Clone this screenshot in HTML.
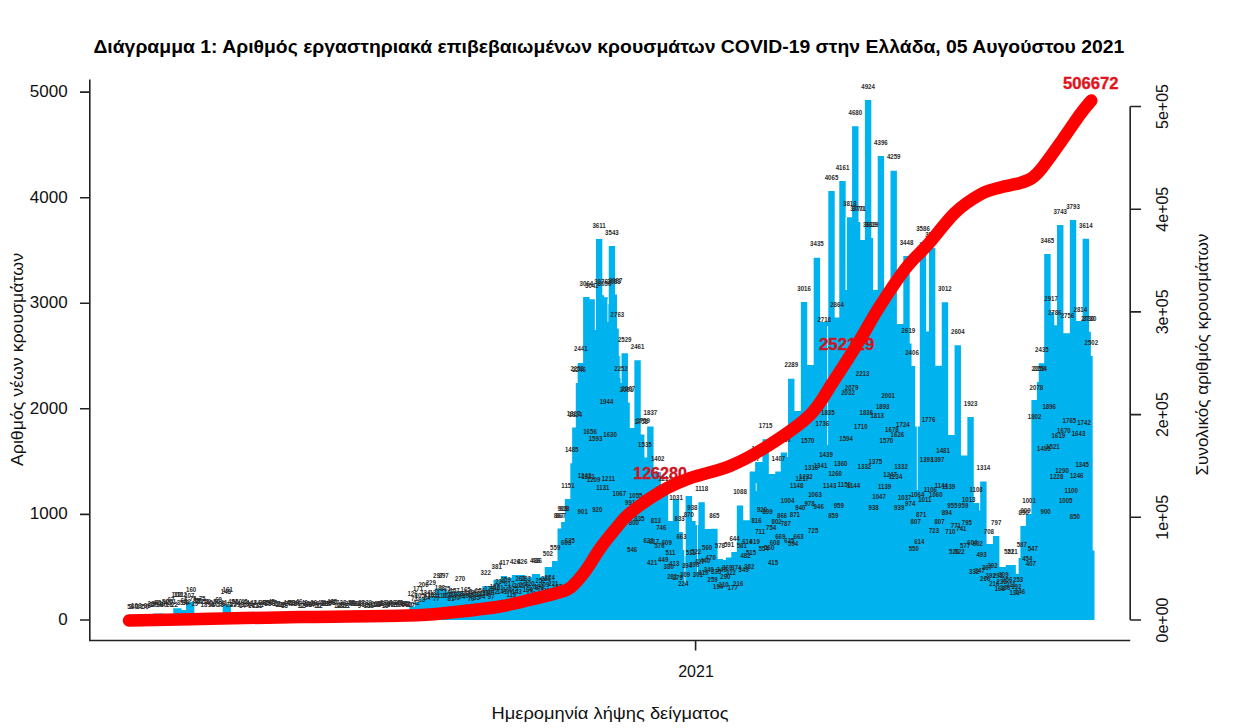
<!DOCTYPE html>
<html><head><meta charset="utf-8"><title>COVID-19 Greece</title>
<style>html,body{margin:0;padding:0;background:#fff;width:1244px;height:728px;overflow:hidden}svg{display:block;font-family:"Liberation Sans",sans-serif}</style>
</head><body>
<svg width="1244" height="728" viewBox="0 0 1244 728"><rect x="0" y="0" width="1244" height="728" fill="#fff"/>
<path fill="#00B2EE" d="M125.70,620 L125.70,615.0 L153.15,615.0 L153.15,613.5 L163.20,613.5 L163.20,614.0 L173.27,614.0 L173.27,608.2 L181.50,608.2 L181.50,610.0 L186.08,610.0 L186.08,602.0 L194.31,602.0 L194.31,613.0 L222.67,613.0 L222.67,604.4 L230.90,604.4 L230.90,613.0 L409.30,613.0 L409.30,606.7 L414.79,606.7 L414.79,601.9 L420.28,601.9 L420.28,598.2 L427.60,598.2 L427.60,595.8 L434.92,595.8 L434.92,588.6 L446.81,588.6 L446.81,591.5 L463.28,591.5 L463.28,593.2 L482.49,593.2 L482.49,586.0 L493.47,586.0 L493.47,579.8 L500.79,579.8 L500.79,576.0 L507.19,576.0 L507.19,578.0 L511.77,578.0 L511.77,575.0 L525.49,575.0 L525.49,577.3 L531.89,577.3 L531.89,574.0 L540.12,574.0 L540.12,576.8 L544.70,576.8 L544.70,567.0 L552.02,567.0 L552.02,561.0 L557.51,561.0 L557.51,528.5 L561.17,528.5 L561.17,522.0 L564.83,522.0 L564.83,499.0 L570.32,499.0 L570.32,463.3 L572.15,463.3 L572.15,427.4 L575.81,427.4 L575.81,382.9 L577.64,382.9 L577.64,362.9 L583.12,362.9 L583.12,296.9 L589.53,296.9 L589.53,299.2 L595.01,299.2 L595.01,330.0 L595.93,330.0 L595.93,239.0 L602.33,239.0 L602.33,295.2 L604.16,295.2 L604.16,297.3 L607.82,297.3 L607.82,304.3 L608.74,304.3 L608.74,246.0 L615.14,246.0 L615.14,294.5 L616.97,294.5 L616.97,328.5 L618.80,328.5 L618.80,356.0 L620.63,356.0 L620.63,382.9 L621.55,382.9 L621.55,353.2 L627.95,353.2 L627.95,402.4 L629.78,402.4 L629.78,428.0 L634.36,428.0 L634.36,360.2 L640.76,360.2 L640.76,434.4 L644.42,434.4 L644.42,457.6 L647.16,457.6 L647.16,426.4 L653.56,426.4 L653.56,472.0 L660.88,472.0 L660.88,492.0 L668.20,492.0 L668.20,521.0 L672.78,521.0 L672.78,499.0 L679.18,499.0 L679.18,532.0 L682.84,532.0 L682.84,550.0 L684.67,550.0 L684.67,556.0 L685.59,556.0 L685.59,496.0 L691.99,496.0 L691.99,521.0 L695.65,521.0 L695.65,525.0 L698.40,525.0 L698.40,502.3 L704.80,502.3 L704.80,529.0 L711.20,529.0 L711.20,528.7 L717.60,528.7 L717.60,559.0 L723.09,559.0 L723.09,560.0 L725.84,560.0 L725.84,557.6 L731.33,557.6 L731.33,552.0 L736.82,552.0 L736.82,505.5 L743.22,505.5 L743.22,520.3 L749.63,520.3 L749.63,471.4 L755.12,471.4 L755.12,462.0 L762.44,462.0 L762.44,439.3 L768.84,439.3 L768.84,474.0 L775.24,474.0 L775.24,471.4 L780.73,471.4 L780.73,452.5 L787.13,452.5 L787.13,457.0 L788.05,457.0 L788.05,378.8 L794.45,378.8 L794.45,411.0 L800.86,411.0 L800.86,302.0 L807.26,302.0 L807.26,365.0 L813.67,365.0 L813.67,257.7 L820.07,257.7 L820.07,322.0 L828.30,322.0 L828.30,191.1 L834.70,191.1 L834.70,317.6 L839.28,317.6 L839.28,180.9 L845.68,180.9 L845.68,290.0 L846.60,290.0 L846.60,217.3 L852.09,217.3 L852.09,126.2 L858.49,126.2 L858.49,222.0 L860.32,222.0 L860.32,240.0 L864.90,240.0 L864.90,99.9 L871.30,99.9 L871.30,237.9 L873.13,237.9 L873.13,290.0 L877.71,290.0 L877.71,155.9 L884.11,155.9 L884.11,295.0 L890.51,295.0 L890.51,170.7 L896.91,170.7 L896.91,324.0 L903.32,324.0 L903.32,256.0 L909.72,256.0 L909.72,343.5 L911.55,343.5 L911.55,366.0 L915.21,366.0 L915.21,426.4 L919.79,426.4 L919.79,242.0 L926.19,242.0 L926.19,331.6 L928.94,331.6 L928.94,248.0 L935.34,248.0 L935.34,365.7 L941.75,365.7 L941.75,302.3 L948.15,302.3 L948.15,435.0 L954.55,435.0 L954.55,345.2 L960.95,345.2 L960.95,455.4 L967.36,455.4 L967.36,417.0 L973.76,417.0 L973.76,503.0 L979.25,503.0 L979.25,510.5 L980.17,510.5 L980.17,481.6 L986.57,481.6 L986.57,544.0 L992.98,544.0 L992.98,536.0 L999.38,536.0 L999.38,567.0 L1005.79,567.0 L1005.79,565.0 L1015.85,565.0 L1015.85,574.0 L1018.59,574.0 L1018.59,558.0 L1020.42,558.0 L1020.42,526.0 L1025.91,526.0 L1025.91,514.0 L1031.40,514.0 L1031.40,400.0 L1036.89,400.0 L1036.89,382.0 L1038.72,382.0 L1038.72,363.3 L1044.21,363.3 L1044.21,254.0 L1050.61,254.0 L1050.61,312.0 L1054.27,312.0 L1054.27,325.3 L1057.02,325.3 L1057.02,225.0 L1063.42,225.0 L1063.42,333.3 L1069.83,333.3 L1069.83,219.9 L1076.23,219.9 L1076.23,321.0 L1082.63,321.0 L1082.63,238.7 L1089.03,238.7 L1089.03,331.8 L1090.86,331.8 L1090.86,356.0 L1092.69,356.0 L1092.69,550.5 L1094.52,550.5 L1094.52,620 Z"/>
<g fill="#fff" opacity="0.85"><rect x="594.8" y="296.0" width="1" height="34.0"/><rect x="607.4" y="299.0" width="1" height="23.0"/><rect x="619.7" y="336.0" width="1" height="42.0"/><rect x="684.4" y="532.0" width="1" height="51.0"/><rect x="697.0" y="525.0" width="1" height="47.0"/><rect x="755.7" y="483.0" width="1" height="8.0"/><rect x="827.1" y="326.0" width="1" height="119.0"/><rect x="845.7" y="217.0" width="1" height="73.0"/><rect x="916.8" y="426.0" width="1" height="64.0"/></g>
<g font-family="Liberation Sans" font-weight="bold" font-size="7.2" fill="#2b2b2b" text-anchor="middle"><text transform="translate(128.9,608.6) scale(0.85,1)">5</text><text transform="translate(130.7,608.9) scale(0.85,1)">2</text><text transform="translate(132.6,608.5) scale(0.85,1)">6</text><text transform="translate(134.4,608.0) scale(0.85,1)">10</text><text transform="translate(136.2,609.1) scale(0.85,1)">0</text><text transform="translate(138.0,609.0) scale(0.85,1)">1</text><text transform="translate(139.9,608.3) scale(0.85,1)">8</text><text transform="translate(141.7,609.0) scale(0.85,1)">1</text><text transform="translate(143.5,608.6) scale(0.85,1)">5</text><text transform="translate(145.4,608.1) scale(0.85,1)">9</text><text transform="translate(147.2,609.1) scale(0.85,1)">0</text><text transform="translate(149.0,608.3) scale(0.85,1)">8</text><text transform="translate(150.9,606.1) scale(0.85,1)">28</text><text transform="translate(152.7,607.3) scale(0.85,1)">17</text><text transform="translate(154.5,607.0) scale(0.85,1)">20</text><text transform="translate(156.3,604.7) scale(0.85,1)">42</text><text transform="translate(158.2,604.8) scale(0.85,1)">41</text><text transform="translate(160.0,607.1) scale(0.85,1)">19</text><text transform="translate(161.8,605.9) scale(0.85,1)">30</text><text transform="translate(163.7,607.0) scale(0.85,1)">20</text><text transform="translate(165.5,603.8) scale(0.85,1)">50</text><text transform="translate(167.3,604.7) scale(0.85,1)">42</text><text transform="translate(169.2,607.2) scale(0.85,1)">18</text><text transform="translate(171.0,602.0) scale(0.85,1)">67</text><text transform="translate(172.8,603.7) scale(0.85,1)">51</text><text transform="translate(174.6,606.8) scale(0.85,1)">22</text><text transform="translate(176.5,597.3) scale(0.85,1)">112</text><text transform="translate(178.3,597.3) scale(0.85,1)">112</text><text transform="translate(180.1,605.4) scale(0.85,1)">35</text><text transform="translate(182.0,597.3) scale(0.85,1)">112</text><text transform="translate(183.8,602.6) scale(0.85,1)">62</text><text transform="translate(185.6,605.1) scale(0.85,1)">38</text><text transform="translate(187.5,603.6) scale(0.85,1)">52</text><text transform="translate(189.3,597.8) scale(0.85,1)">107</text><text transform="translate(191.1,592.2) scale(0.85,1)">160</text><text transform="translate(192.9,601.2) scale(0.85,1)">75</text><text transform="translate(194.8,606.0) scale(0.85,1)">29</text><text transform="translate(196.6,603.3) scale(0.85,1)">55</text><text transform="translate(198.4,603.3) scale(0.85,1)">55</text><text transform="translate(200.3,603.6) scale(0.85,1)">52</text><text transform="translate(202.1,601.2) scale(0.85,1)">75</text><text transform="translate(203.9,607.2) scale(0.85,1)">18</text><text transform="translate(205.7,603.7) scale(0.85,1)">51</text><text transform="translate(207.6,603.6) scale(0.85,1)">52</text><text transform="translate(209.4,604.9) scale(0.85,1)">40</text><text transform="translate(211.2,607.2) scale(0.85,1)">18</text><text transform="translate(213.1,606.0) scale(0.85,1)">29</text><text transform="translate(214.9,607.3) scale(0.85,1)">17</text><text transform="translate(216.7,603.8) scale(0.85,1)">50</text><text transform="translate(218.6,601.8) scale(0.85,1)">69</text><text transform="translate(220.4,606.7) scale(0.85,1)">23</text><text transform="translate(222.2,605.6) scale(0.85,1)">33</text><text transform="translate(224.0,604.8) scale(0.85,1)">41</text><text transform="translate(225.9,593.5) scale(0.85,1)">148</text><text transform="translate(227.7,592.1) scale(0.85,1)">161</text><text transform="translate(229.5,606.6) scale(0.85,1)">24</text><text transform="translate(231.4,603.9) scale(0.85,1)">49</text><text transform="translate(233.2,606.8) scale(0.85,1)">22</text><text transform="translate(235.0,603.7) scale(0.85,1)">51</text><text transform="translate(236.9,605.5) scale(0.85,1)">34</text><text transform="translate(238.7,603.8) scale(0.85,1)">50</text><text transform="translate(240.5,607.1) scale(0.85,1)">19</text><text transform="translate(242.3,607.6) scale(0.85,1)">14</text><text transform="translate(244.2,604.3) scale(0.85,1)">45</text><text transform="translate(246.0,604.5) scale(0.85,1)">44</text><text transform="translate(247.8,607.0) scale(0.85,1)">20</text><text transform="translate(249.7,605.8) scale(0.85,1)">31</text><text transform="translate(251.5,607.6) scale(0.85,1)">14</text><text transform="translate(253.3,604.6) scale(0.85,1)">43</text><text transform="translate(255.1,607.8) scale(0.85,1)">12</text><text transform="translate(257.0,604.5) scale(0.85,1)">44</text><text transform="translate(258.8,607.9) scale(0.85,1)">11</text><text transform="translate(260.6,606.9) scale(0.85,1)">21</text><text transform="translate(262.5,605.0) scale(0.85,1)">39</text><text transform="translate(264.3,604.7) scale(0.85,1)">42</text><text transform="translate(266.1,605.4) scale(0.85,1)">35</text><text transform="translate(268.0,606.1) scale(0.85,1)">28</text><text transform="translate(269.8,605.2) scale(0.85,1)">37</text><text transform="translate(271.6,604.3) scale(0.85,1)">45</text><text transform="translate(273.4,605.2) scale(0.85,1)">37</text><text transform="translate(275.3,605.8) scale(0.85,1)">31</text><text transform="translate(277.1,606.2) scale(0.85,1)">27</text><text transform="translate(278.9,606.7) scale(0.85,1)">23</text><text transform="translate(280.8,607.1) scale(0.85,1)">19</text><text transform="translate(282.6,606.7) scale(0.85,1)">23</text><text transform="translate(284.4,607.7) scale(0.85,1)">13</text><text transform="translate(286.3,604.5) scale(0.85,1)">44</text><text transform="translate(288.1,606.2) scale(0.85,1)">27</text><text transform="translate(289.9,604.8) scale(0.85,1)">41</text><text transform="translate(291.7,605.0) scale(0.85,1)">39</text><text transform="translate(293.6,606.0) scale(0.85,1)">29</text><text transform="translate(295.4,605.3) scale(0.85,1)">36</text><text transform="translate(297.2,606.4) scale(0.85,1)">26</text><text transform="translate(299.1,604.2) scale(0.85,1)">46</text><text transform="translate(300.9,607.8) scale(0.85,1)">12</text><text transform="translate(302.7,607.5) scale(0.85,1)">15</text><text transform="translate(304.6,604.9) scale(0.85,1)">40</text><text transform="translate(306.4,605.5) scale(0.85,1)">34</text><text transform="translate(308.2,607.2) scale(0.85,1)">18</text><text transform="translate(310.0,606.0) scale(0.85,1)">29</text><text transform="translate(311.9,607.3) scale(0.85,1)">17</text><text transform="translate(313.7,605.0) scale(0.85,1)">39</text><text transform="translate(315.5,605.5) scale(0.85,1)">34</text><text transform="translate(317.4,608.0) scale(0.85,1)">10</text><text transform="translate(319.2,607.8) scale(0.85,1)">12</text><text transform="translate(321.0,604.6) scale(0.85,1)">43</text><text transform="translate(322.8,604.5) scale(0.85,1)">44</text><text transform="translate(324.7,606.1) scale(0.85,1)">28</text><text transform="translate(326.5,606.0) scale(0.85,1)">29</text><text transform="translate(328.3,605.9) scale(0.85,1)">30</text><text transform="translate(330.2,604.2) scale(0.85,1)">46</text><text transform="translate(332.0,605.0) scale(0.85,1)">39</text><text transform="translate(333.8,604.3) scale(0.85,1)">45</text><text transform="translate(335.7,605.2) scale(0.85,1)">37</text><text transform="translate(337.5,607.8) scale(0.85,1)">12</text><text transform="translate(339.3,607.7) scale(0.85,1)">13</text><text transform="translate(341.1,606.5) scale(0.85,1)">25</text><text transform="translate(343.0,605.1) scale(0.85,1)">38</text><text transform="translate(344.8,607.8) scale(0.85,1)">12</text><text transform="translate(346.6,607.9) scale(0.85,1)">11</text><text transform="translate(348.5,606.2) scale(0.85,1)">27</text><text transform="translate(350.3,604.5) scale(0.85,1)">44</text><text transform="translate(352.1,605.3) scale(0.85,1)">36</text><text transform="translate(354.0,606.4) scale(0.85,1)">26</text><text transform="translate(355.8,605.7) scale(0.85,1)">32</text><text transform="translate(357.6,605.9) scale(0.85,1)">30</text><text transform="translate(359.4,608.1) scale(0.85,1)">9</text><text transform="translate(361.3,605.2) scale(0.85,1)">37</text><text transform="translate(363.1,605.9) scale(0.85,1)">30</text><text transform="translate(364.9,607.2) scale(0.85,1)">18</text><text transform="translate(366.8,607.5) scale(0.85,1)">15</text><text transform="translate(368.6,605.0) scale(0.85,1)">39</text><text transform="translate(370.4,607.9) scale(0.85,1)">11</text><text transform="translate(372.3,606.9) scale(0.85,1)">21</text><text transform="translate(374.1,606.4) scale(0.85,1)">26</text><text transform="translate(375.9,607.4) scale(0.85,1)">16</text><text transform="translate(377.7,606.7) scale(0.85,1)">23</text><text transform="translate(379.6,605.6) scale(0.85,1)">33</text><text transform="translate(381.4,605.6) scale(0.85,1)">33</text><text transform="translate(383.2,605.0) scale(0.85,1)">39</text><text transform="translate(385.1,607.7) scale(0.85,1)">13</text><text transform="translate(386.9,607.2) scale(0.85,1)">18</text><text transform="translate(388.7,605.3) scale(0.85,1)">36</text><text transform="translate(390.5,605.6) scale(0.85,1)">33</text><text transform="translate(392.4,604.6) scale(0.85,1)">43</text><text transform="translate(394.2,606.5) scale(0.85,1)">25</text><text transform="translate(396.0,607.4) scale(0.85,1)">16</text><text transform="translate(397.9,605.4) scale(0.85,1)">35</text><text transform="translate(399.7,604.6) scale(0.85,1)">43</text><text transform="translate(401.5,606.5) scale(0.85,1)">25</text><text transform="translate(403.4,605.5) scale(0.85,1)">34</text><text transform="translate(405.2,605.9) scale(0.85,1)">30</text><text transform="translate(407.0,605.7) scale(0.85,1)">32</text><text transform="translate(408.8,606.8) scale(0.85,1)">22</text><text transform="translate(410.7,607.0) scale(0.85,1)">20</text><text transform="translate(412.5,595.8) scale(0.85,1)">126</text><text transform="translate(414.3,601.4) scale(0.85,1)">73</text><text transform="translate(416.2,604.7) scale(0.85,1)">42</text><text transform="translate(418.0,591.0) scale(0.85,1)">171</text><text transform="translate(419.8,598.0) scale(0.85,1)">105</text><text transform="translate(421.7,602.4) scale(0.85,1)">63</text><text transform="translate(423.5,587.4) scale(0.85,1)">206</text><text transform="translate(425.3,595.0) scale(0.85,1)">134</text><text transform="translate(427.1,600.2) scale(0.85,1)">84</text><text transform="translate(429.0,597.2) scale(0.85,1)">113</text><text transform="translate(430.8,584.9) scale(0.85,1)">229</text><text transform="translate(432.6,598.4) scale(0.85,1)">101</text><text transform="translate(434.5,595.1) scale(0.85,1)">133</text><text transform="translate(436.3,601.0) scale(0.85,1)">77</text><text transform="translate(438.1,577.7) scale(0.85,1)">297</text><text transform="translate(439.9,589.8) scale(0.85,1)">183</text><text transform="translate(441.8,597.5) scale(0.85,1)">110</text><text transform="translate(443.6,577.7) scale(0.85,1)">297</text><text transform="translate(445.4,590.6) scale(0.85,1)">175</text><text transform="translate(447.3,597.6) scale(0.85,1)">109</text><text transform="translate(449.1,593.6) scale(0.85,1)">147</text><text transform="translate(450.9,600.5) scale(0.85,1)">81</text><text transform="translate(452.8,596.5) scale(0.85,1)">119</text><text transform="translate(454.6,592.5) scale(0.85,1)">157</text><text transform="translate(456.4,599.6) scale(0.85,1)">90</text><text transform="translate(458.2,595.6) scale(0.85,1)">128</text><text transform="translate(460.1,580.6) scale(0.85,1)">270</text><text transform="translate(461.9,599.2) scale(0.85,1)">94</text><text transform="translate(463.7,595.5) scale(0.85,1)">129</text><text transform="translate(465.6,591.7) scale(0.85,1)">165</text><text transform="translate(467.4,598.2) scale(0.85,1)">103</text><text transform="translate(469.2,594.5) scale(0.85,1)">138</text><text transform="translate(471.1,601.1) scale(0.85,1)">76</text><text transform="translate(472.9,597.3) scale(0.85,1)">112</text><text transform="translate(474.7,593.6) scale(0.85,1)">147</text><text transform="translate(476.5,600.1) scale(0.85,1)">85</text><text transform="translate(478.4,596.3) scale(0.85,1)">121</text><text transform="translate(480.2,592.6) scale(0.85,1)">156</text><text transform="translate(482.0,599.2) scale(0.85,1)">94</text><text transform="translate(483.9,595.5) scale(0.85,1)">129</text><text transform="translate(485.7,575.1) scale(0.85,1)">322</text><text transform="translate(487.5,595.4) scale(0.85,1)">130</text><text transform="translate(489.4,590.5) scale(0.85,1)">176</text><text transform="translate(491.2,598.9) scale(0.85,1)">97</text><text transform="translate(493.0,594.1) scale(0.85,1)">142</text><text transform="translate(494.8,589.4) scale(0.85,1)">187</text><text transform="translate(496.7,568.9) scale(0.85,1)">381</text><text transform="translate(498.5,590.0) scale(0.85,1)">181</text><text transform="translate(500.3,584.4) scale(0.85,1)">234</text><text transform="translate(502.2,594.2) scale(0.85,1)">141</text><text transform="translate(504.0,565.1) scale(0.85,1)">417</text><text transform="translate(505.8,581.8) scale(0.85,1)">259</text><text transform="translate(507.6,592.1) scale(0.85,1)">161</text><text transform="translate(509.5,586.2) scale(0.85,1)">217</text><text transform="translate(511.3,596.5) scale(0.85,1)">119</text><text transform="translate(513.1,590.6) scale(0.85,1)">175</text><text transform="translate(515.0,564.1) scale(0.85,1)">426</text><text transform="translate(516.8,594.0) scale(0.85,1)">143</text><text transform="translate(518.6,587.8) scale(0.85,1)">202</text><text transform="translate(520.5,581.4) scale(0.85,1)">262</text><text transform="translate(522.3,564.1) scale(0.85,1)">426</text><text transform="translate(524.1,587.4) scale(0.85,1)">206</text><text transform="translate(525.9,581.3) scale(0.85,1)">263</text><text transform="translate(527.8,591.8) scale(0.85,1)">164</text><text transform="translate(529.6,585.9) scale(0.85,1)">220</text><text transform="translate(531.4,596.3) scale(0.85,1)">121</text><text transform="translate(533.3,590.3) scale(0.85,1)">178</text><text transform="translate(535.1,563.1) scale(0.85,1)">436</text><text transform="translate(536.9,563.1) scale(0.85,1)">436</text><text transform="translate(538.8,588.6) scale(0.85,1)">194</text><text transform="translate(540.6,582.5) scale(0.85,1)">252</text><text transform="translate(542.4,593.2) scale(0.85,1)">151</text><text transform="translate(544.2,587.0) scale(0.85,1)">209</text><text transform="translate(546.1,581.0) scale(0.85,1)">266</text><text transform="translate(547.9,556.1) scale(0.85,1)">502</text><text transform="translate(549.7,580.2) scale(0.85,1)">274</text><text transform="translate(551.6,593.2) scale(0.85,1)">151</text><text transform="translate(553.4,585.8) scale(0.85,1)">221</text><text transform="translate(555.2,550.1) scale(0.85,1)">559</text><text transform="translate(557.0,589.4) scale(0.85,1)">187</text><text transform="translate(558.9,517.6) scale(0.85,1)">867</text><text transform="translate(560.7,517.6) scale(0.85,1)">867</text><text transform="translate(562.5,511.1) scale(0.85,1)">928</text><text transform="translate(564.4,511.1) scale(0.85,1)">928</text><text transform="translate(566.2,545.4) scale(0.85,1)">603</text><text transform="translate(568.0,487.6) scale(0.85,1)">1151</text><text transform="translate(569.9,543.1) scale(0.85,1)">625</text><text transform="translate(571.7,452.3) scale(0.85,1)">1485</text><text transform="translate(573.5,416.2) scale(0.85,1)">1827</text><text transform="translate(575.3,416.5) scale(0.85,1)">1824</text><text transform="translate(577.2,371.3) scale(0.85,1)">2252</text><text transform="translate(579.0,372.0) scale(0.85,1)">2246</text><text transform="translate(580.8,351.4) scale(0.85,1)">2441</text><text transform="translate(582.7,514.0) scale(0.85,1)">901</text><text transform="translate(584.5,478.0) scale(0.85,1)">1242</text><text transform="translate(586.3,285.6) scale(0.85,1)">3064</text><text transform="translate(588.2,479.1) scale(0.85,1)">1231</text><text transform="translate(590.0,434.3) scale(0.85,1)">1656</text><text transform="translate(591.8,287.9) scale(0.85,1)">3042</text><text transform="translate(593.6,481.5) scale(0.85,1)">1209</text><text transform="translate(595.5,440.9) scale(0.85,1)">1593</text><text transform="translate(597.3,512.0) scale(0.85,1)">920</text><text transform="translate(599.1,227.9) scale(0.85,1)">3611</text><text transform="translate(601.0,284.3) scale(0.85,1)">3076</text><text transform="translate(602.8,489.7) scale(0.85,1)">1131</text><text transform="translate(604.6,286.4) scale(0.85,1)">3056</text><text transform="translate(606.5,403.9) scale(0.85,1)">1944</text><text transform="translate(608.3,481.2) scale(0.85,1)">1211</text><text transform="translate(610.1,437.0) scale(0.85,1)">1630</text><text transform="translate(611.9,235.0) scale(0.85,1)">3543</text><text transform="translate(613.8,283.6) scale(0.85,1)">3083</text><text transform="translate(615.6,283.2) scale(0.85,1)">3087</text><text transform="translate(617.4,317.4) scale(0.85,1)">2763</text><text transform="translate(619.3,496.4) scale(0.85,1)">1067</text><text transform="translate(621.1,371.3) scale(0.85,1)">2252</text><text transform="translate(622.9,521.4) scale(0.85,1)">831</text><text transform="translate(624.7,342.1) scale(0.85,1)">2529</text><text transform="translate(626.6,391.5) scale(0.85,1)">2061</text><text transform="translate(628.4,390.9) scale(0.85,1)">2067</text><text transform="translate(630.2,504.5) scale(0.85,1)">991</text><text transform="translate(632.1,551.5) scale(0.85,1)">546</text><text transform="translate(633.9,524.6) scale(0.85,1)">800</text><text transform="translate(635.7,497.7) scale(0.85,1)">1055</text><text transform="translate(637.6,349.3) scale(0.85,1)">2461</text><text transform="translate(639.4,520.9) scale(0.85,1)">835</text><text transform="translate(641.2,423.5) scale(0.85,1)">1758</text><text transform="translate(643.0,423.4) scale(0.85,1)">1759</text><text transform="translate(644.9,447.0) scale(0.85,1)">1535</text><text transform="translate(646.7,503.5) scale(0.85,1)">1000</text><text transform="translate(648.5,543.3) scale(0.85,1)">623</text><text transform="translate(650.4,415.1) scale(0.85,1)">1837</text><text transform="translate(652.2,564.7) scale(0.85,1)">421</text><text transform="translate(654.0,544.0) scale(0.85,1)">617</text><text transform="translate(655.9,523.3) scale(0.85,1)">813</text><text transform="translate(657.7,461.1) scale(0.85,1)">1402</text><text transform="translate(659.5,548.3) scale(0.85,1)">576</text><text transform="translate(661.3,530.3) scale(0.85,1)">746</text><text transform="translate(663.2,561.7) scale(0.85,1)">449</text><text transform="translate(665.0,481.1) scale(0.85,1)">1212</text><text transform="translate(666.8,544.8) scale(0.85,1)">609</text><text transform="translate(668.7,569.0) scale(0.85,1)">380</text><text transform="translate(670.5,555.1) scale(0.85,1)">511</text><text transform="translate(672.3,579.4) scale(0.85,1)">281</text><text transform="translate(674.2,565.5) scale(0.85,1)">413</text><text transform="translate(676.0,500.2) scale(0.85,1)">1031</text><text transform="translate(677.8,579.6) scale(0.85,1)">279</text><text transform="translate(679.6,521.2) scale(0.85,1)">833</text><text transform="translate(681.5,539.1) scale(0.85,1)">663</text><text transform="translate(683.3,585.5) scale(0.85,1)">224</text><text transform="translate(685.1,576.5) scale(0.85,1)">309</text><text transform="translate(687.0,567.5) scale(0.85,1)">394</text><text transform="translate(688.8,517.2) scale(0.85,1)">870</text><text transform="translate(690.6,555.1) scale(0.85,1)">511</text><text transform="translate(692.4,510.1) scale(0.85,1)">938</text><text transform="translate(694.3,567.3) scale(0.85,1)">396</text><text transform="translate(696.1,554.0) scale(0.85,1)">522</text><text transform="translate(697.9,577.3) scale(0.85,1)">301</text><text transform="translate(699.8,564.0) scale(0.85,1)">427</text><text transform="translate(701.6,491.1) scale(0.85,1)">1118</text><text transform="translate(703.4,575.4) scale(0.85,1)">319</text><text transform="translate(705.3,562.6) scale(0.85,1)">440</text><text transform="translate(707.1,550.0) scale(0.85,1)">560</text><text transform="translate(708.9,572.3) scale(0.85,1)">349</text><text transform="translate(710.7,559.5) scale(0.85,1)">470</text><text transform="translate(712.6,581.8) scale(0.85,1)">259</text><text transform="translate(714.4,517.8) scale(0.85,1)">865</text><text transform="translate(716.2,573.7) scale(0.85,1)">335</text><text transform="translate(718.1,588.6) scale(0.85,1)">194</text><text transform="translate(719.9,548.1) scale(0.85,1)">578</text><text transform="translate(721.7,572.3) scale(0.85,1)">349</text><text transform="translate(723.6,586.9) scale(0.85,1)">210</text><text transform="translate(725.4,578.5) scale(0.85,1)">290</text><text transform="translate(727.2,570.1) scale(0.85,1)">369</text><text transform="translate(729.0,546.7) scale(0.85,1)">591</text><text transform="translate(730.9,575.1) scale(0.85,1)">322</text><text transform="translate(732.7,590.4) scale(0.85,1)">177</text><text transform="translate(734.5,541.1) scale(0.85,1)">644</text><text transform="translate(736.4,569.6) scale(0.85,1)">374</text><text transform="translate(738.2,586.3) scale(0.85,1)">216</text><text transform="translate(740.0,494.2) scale(0.85,1)">1088</text><text transform="translate(741.8,547.8) scale(0.85,1)">581</text><text transform="translate(743.7,572.3) scale(0.85,1)">349</text><text transform="translate(745.5,558.2) scale(0.85,1)">482</text><text transform="translate(747.3,544.3) scale(0.85,1)">614</text><text transform="translate(749.2,568.8) scale(0.85,1)">382</text><text transform="translate(751.0,554.7) scale(0.85,1)">515</text><text transform="translate(752.8,460.5) scale(0.85,1)">1407</text><text transform="translate(754.7,543.7) scale(0.85,1)">619</text><text transform="translate(756.5,522.9) scale(0.85,1)">816</text><text transform="translate(758.3,451.2) scale(0.85,1)">1496</text><text transform="translate(760.1,534.0) scale(0.85,1)">711</text><text transform="translate(762.0,512.0) scale(0.85,1)">920</text><text transform="translate(763.8,550.6) scale(0.85,1)">554</text><text transform="translate(765.6,428.0) scale(0.85,1)">1715</text><text transform="translate(767.5,514.2) scale(0.85,1)">899</text><text transform="translate(769.3,550.0) scale(0.85,1)">560</text><text transform="translate(771.1,529.5) scale(0.85,1)">754</text><text transform="translate(773.0,565.3) scale(0.85,1)">415</text><text transform="translate(774.8,544.9) scale(0.85,1)">608</text><text transform="translate(776.6,524.4) scale(0.85,1)">802</text><text transform="translate(778.4,460.5) scale(0.85,1)">1407</text><text transform="translate(780.3,538.5) scale(0.85,1)">669</text><text transform="translate(782.1,517.7) scale(0.85,1)">866</text><text transform="translate(783.9,441.7) scale(0.85,1)">1586</text><text transform="translate(785.8,526.0) scale(0.85,1)">787</text><text transform="translate(787.6,503.1) scale(0.85,1)">1004</text><text transform="translate(789.4,543.1) scale(0.85,1)">625</text><text transform="translate(791.3,367.4) scale(0.85,1)">2289</text><text transform="translate(793.1,546.4) scale(0.85,1)">594</text><text transform="translate(794.9,517.1) scale(0.85,1)">871</text><text transform="translate(796.7,487.9) scale(0.85,1)">1148</text><text transform="translate(798.6,539.1) scale(0.85,1)">663</text><text transform="translate(800.4,509.9) scale(0.85,1)">940</text><text transform="translate(802.2,480.6) scale(0.85,1)">1217</text><text transform="translate(804.1,290.7) scale(0.85,1)">3016</text><text transform="translate(805.9,479.0) scale(0.85,1)">1232</text><text transform="translate(807.7,443.3) scale(0.85,1)">1570</text><text transform="translate(809.5,505.8) scale(0.85,1)">978</text><text transform="translate(811.4,470.2) scale(0.85,1)">1316</text><text transform="translate(813.2,532.6) scale(0.85,1)">725</text><text transform="translate(815.0,496.9) scale(0.85,1)">1063</text><text transform="translate(816.9,246.4) scale(0.85,1)">3435</text><text transform="translate(818.7,509.2) scale(0.85,1)">946</text><text transform="translate(820.5,467.5) scale(0.85,1)">1341</text><text transform="translate(822.4,425.8) scale(0.85,1)">1736</text><text transform="translate(824.2,322.1) scale(0.85,1)">2718</text><text transform="translate(826.0,457.2) scale(0.85,1)">1439</text><text transform="translate(827.8,415.4) scale(0.85,1)">1835</text><text transform="translate(829.7,488.4) scale(0.85,1)">1143</text><text transform="translate(831.5,179.9) scale(0.85,1)">4065</text><text transform="translate(833.3,518.4) scale(0.85,1)">859</text><text transform="translate(835.2,476.1) scale(0.85,1)">1260</text><text transform="translate(837.0,306.7) scale(0.85,1)">2864</text><text transform="translate(838.8,507.8) scale(0.85,1)">959</text><text transform="translate(840.7,465.5) scale(0.85,1)">1360</text><text transform="translate(842.5,169.8) scale(0.85,1)">4161</text><text transform="translate(844.3,487.0) scale(0.85,1)">1156</text><text transform="translate(846.1,440.8) scale(0.85,1)">1594</text><text transform="translate(848.0,394.6) scale(0.85,1)">2032</text><text transform="translate(849.8,206.0) scale(0.85,1)">3818</text><text transform="translate(851.6,389.6) scale(0.85,1)">2079</text><text transform="translate(853.5,488.3) scale(0.85,1)">1144</text><text transform="translate(855.3,115.0) scale(0.85,1)">4680</text><text transform="translate(857.1,211.1) scale(0.85,1)">3770</text><text transform="translate(859.0,211.0) scale(0.85,1)">3771</text><text transform="translate(860.8,428.6) scale(0.85,1)">1710</text><text transform="translate(862.6,375.5) scale(0.85,1)">2213</text><text transform="translate(864.4,468.5) scale(0.85,1)">1332</text><text transform="translate(866.3,415.3) scale(0.85,1)">1836</text><text transform="translate(868.1,89.2) scale(0.85,1)">4924</text><text transform="translate(869.9,227.0) scale(0.85,1)">3619</text><text transform="translate(871.8,227.0) scale(0.85,1)">3619</text><text transform="translate(873.6,510.1) scale(0.85,1)">938</text><text transform="translate(875.4,463.9) scale(0.85,1)">1375</text><text transform="translate(877.2,417.7) scale(0.85,1)">1813</text><text transform="translate(879.1,498.6) scale(0.85,1)">1047</text><text transform="translate(880.9,145.0) scale(0.85,1)">4396</text><text transform="translate(882.7,409.2) scale(0.85,1)">1893</text><text transform="translate(884.6,488.8) scale(0.85,1)">1139</text><text transform="translate(886.4,443.3) scale(0.85,1)">1570</text><text transform="translate(888.2,397.8) scale(0.85,1)">2001</text><text transform="translate(890.1,477.4) scale(0.85,1)">1247</text><text transform="translate(891.9,431.9) scale(0.85,1)">1678</text><text transform="translate(893.7,159.4) scale(0.85,1)">4259</text><text transform="translate(895.5,478.8) scale(0.85,1)">1234</text><text transform="translate(897.4,437.4) scale(0.85,1)">1626</text><text transform="translate(899.2,510.0) scale(0.85,1)">939</text><text transform="translate(901.0,468.5) scale(0.85,1)">1332</text><text transform="translate(902.9,427.1) scale(0.85,1)">1724</text><text transform="translate(904.7,499.6) scale(0.85,1)">1037</text><text transform="translate(906.5,245.1) scale(0.85,1)">3448</text><text transform="translate(908.4,332.6) scale(0.85,1)">2619</text><text transform="translate(910.2,506.3) scale(0.85,1)">974</text><text transform="translate(912.0,355.1) scale(0.85,1)">2406</text><text transform="translate(913.8,551.0) scale(0.85,1)">550</text><text transform="translate(915.7,523.9) scale(0.85,1)">807</text><text transform="translate(917.5,496.8) scale(0.85,1)">1064</text><text transform="translate(919.3,544.3) scale(0.85,1)">614</text><text transform="translate(921.2,517.1) scale(0.85,1)">871</text><text transform="translate(923.0,230.5) scale(0.85,1)">3586</text><text transform="translate(924.8,502.4) scale(0.85,1)">1011</text><text transform="translate(926.6,462.0) scale(0.85,1)">1393</text><text transform="translate(928.5,421.6) scale(0.85,1)">1776</text><text transform="translate(930.3,492.3) scale(0.85,1)">1106</text><text transform="translate(932.1,237.1) scale(0.85,1)">3523</text><text transform="translate(934.0,532.8) scale(0.85,1)">723</text><text transform="translate(935.8,497.2) scale(0.85,1)">1060</text><text transform="translate(937.6,461.6) scale(0.85,1)">1397</text><text transform="translate(939.5,523.9) scale(0.85,1)">807</text><text transform="translate(941.3,488.3) scale(0.85,1)">1144</text><text transform="translate(943.1,452.7) scale(0.85,1)">1481</text><text transform="translate(944.9,291.1) scale(0.85,1)">3012</text><text transform="translate(946.8,514.7) scale(0.85,1)">894</text><text transform="translate(948.6,488.8) scale(0.85,1)">1139</text><text transform="translate(950.4,534.1) scale(0.85,1)">710</text><text transform="translate(952.3,508.3) scale(0.85,1)">955</text><text transform="translate(954.1,553.6) scale(0.85,1)">526</text><text transform="translate(955.9,527.7) scale(0.85,1)">771</text><text transform="translate(957.8,334.2) scale(0.85,1)">2604</text><text transform="translate(959.6,554.0) scale(0.85,1)">522</text><text transform="translate(961.4,530.9) scale(0.85,1)">741</text><text transform="translate(963.2,507.8) scale(0.85,1)">959</text><text transform="translate(965.1,548.2) scale(0.85,1)">577</text><text transform="translate(966.9,525.2) scale(0.85,1)">795</text><text transform="translate(968.7,502.1) scale(0.85,1)">1013</text><text transform="translate(970.6,406.1) scale(0.85,1)">1923</text><text transform="translate(972.4,545.3) scale(0.85,1)">604</text><text transform="translate(974.2,574.0) scale(0.85,1)">332</text><text transform="translate(976.1,492.1) scale(0.85,1)">1108</text><text transform="translate(977.9,545.5) scale(0.85,1)">602</text><text transform="translate(979.7,572.5) scale(0.85,1)">347</text><text transform="translate(981.5,557.0) scale(0.85,1)">493</text><text transform="translate(983.4,470.4) scale(0.85,1)">1314</text><text transform="translate(985.2,581.0) scale(0.85,1)">266</text><text transform="translate(987.0,570.4) scale(0.85,1)">367</text><text transform="translate(988.9,534.3) scale(0.85,1)">708</text><text transform="translate(990.7,578.3) scale(0.85,1)">292</text><text transform="translate(992.5,567.7) scale(0.85,1)">392</text><text transform="translate(994.3,586.3) scale(0.85,1)">216</text><text transform="translate(996.2,525.0) scale(0.85,1)">797</text><text transform="translate(998.0,578.4) scale(0.85,1)">291</text><text transform="translate(999.8,591.4) scale(0.85,1)">168</text><text transform="translate(1001.7,584.0) scale(0.85,1)">238</text><text transform="translate(1003.5,576.5) scale(0.85,1)">309</text><text transform="translate(1005.3,589.5) scale(0.85,1)">186</text><text transform="translate(1007.2,582.1) scale(0.85,1)">256</text><text transform="translate(1009.0,554.1) scale(0.85,1)">521</text><text transform="translate(1010.8,586.8) scale(0.85,1)">211</text><text transform="translate(1012.6,554.1) scale(0.85,1)">521</text><text transform="translate(1014.5,595.3) scale(0.85,1)">131</text><text transform="translate(1016.3,588.8) scale(0.85,1)">192</text><text transform="translate(1018.1,582.4) scale(0.85,1)">253</text><text transform="translate(1020.0,593.7) scale(0.85,1)">146</text><text transform="translate(1021.8,547.1) scale(0.85,1)">587</text><text transform="translate(1023.6,515.1) scale(0.85,1)">890</text><text transform="translate(1025.5,513.1) scale(0.85,1)">909</text><text transform="translate(1027.3,561.2) scale(0.85,1)">454</text><text transform="translate(1029.1,503.4) scale(0.85,1)">1001</text><text transform="translate(1030.9,566.1) scale(0.85,1)">407</text><text transform="translate(1032.8,551.3) scale(0.85,1)">547</text><text transform="translate(1034.6,418.8) scale(0.85,1)">1802</text><text transform="translate(1036.4,389.7) scale(0.85,1)">2078</text><text transform="translate(1038.3,370.6) scale(0.85,1)">2259</text><text transform="translate(1040.1,371.1) scale(0.85,1)">2254</text><text transform="translate(1041.9,352.0) scale(0.85,1)">2435</text><text transform="translate(1043.8,451.3) scale(0.85,1)">1495</text><text transform="translate(1045.6,514.1) scale(0.85,1)">900</text><text transform="translate(1047.4,243.3) scale(0.85,1)">3465</text><text transform="translate(1049.2,408.9) scale(0.85,1)">1896</text><text transform="translate(1051.1,301.1) scale(0.85,1)">2917</text><text transform="translate(1052.9,448.5) scale(0.85,1)">1521</text><text transform="translate(1054.7,315.0) scale(0.85,1)">2786</text><text transform="translate(1056.6,479.4) scale(0.85,1)">1228</text><text transform="translate(1058.4,438.2) scale(0.85,1)">1619</text><text transform="translate(1060.2,213.9) scale(0.85,1)">3743</text><text transform="translate(1062.0,472.9) scale(0.85,1)">1290</text><text transform="translate(1063.9,432.8) scale(0.85,1)">1670</text><text transform="translate(1065.7,503.0) scale(0.85,1)">1005</text><text transform="translate(1067.5,318.1) scale(0.85,1)">2756</text><text transform="translate(1069.4,422.8) scale(0.85,1)">1765</text><text transform="translate(1071.2,493.0) scale(0.85,1)">1100</text><text transform="translate(1073.0,208.6) scale(0.85,1)">3793</text><text transform="translate(1074.9,519.4) scale(0.85,1)">850</text><text transform="translate(1076.7,477.5) scale(0.85,1)">1246</text><text transform="translate(1078.5,435.6) scale(0.85,1)">1643</text><text transform="translate(1080.3,312.0) scale(0.85,1)">2814</text><text transform="translate(1082.2,467.1) scale(0.85,1)">1345</text><text transform="translate(1084.0,425.2) scale(0.85,1)">1742</text><text transform="translate(1085.8,227.5) scale(0.85,1)">3614</text><text transform="translate(1087.7,320.9) scale(0.85,1)">2730</text><text transform="translate(1089.5,320.9) scale(0.85,1)">2730</text><text transform="translate(1091.3,344.9) scale(0.85,1)">2502</text></g>
<g font-family="Liberation Sans" font-weight="bold" font-size="16.6" fill="#CF1422" stroke="#CF1422" stroke-width="0.35"><text x="633.2" y="479" textLength="53.7" lengthAdjust="spacingAndGlyphs">126280</text><text x="818.9" y="350.4" textLength="55.4" lengthAdjust="spacingAndGlyphs">252119</text><text x="1063" y="89.2" textLength="55.6" lengthAdjust="spacingAndGlyphs" fill="#E8141A">506672</text></g>
<path d="M129.0,620.5 C140.8,620.2 171.5,619.6 200.0,619.0 C228.5,618.4 265.3,617.6 300.0,617.0 C334.7,616.4 383.0,616.2 408.0,615.5 C433.0,614.8 434.7,614.0 450.0,612.5 C465.3,611.0 485.0,609.0 500.0,606.5 C515.0,604.0 530.8,599.6 540.0,597.4 C549.2,595.2 550.0,595.1 555.0,593.5 C560.0,591.9 565.0,591.7 570.0,588.0 C575.0,584.3 580.0,578.1 585.0,571.5 C590.0,564.9 595.0,555.5 600.0,548.5 C605.0,541.5 610.0,535.4 615.0,529.5 C620.0,523.6 622.5,519.2 630.0,513.0 C637.5,506.8 650.0,497.8 660.0,492.0 C670.0,486.2 678.3,482.5 690.0,478.2 C701.7,473.9 716.7,471.6 730.0,466.0 C743.3,460.4 756.7,453.0 770.0,444.5 C783.3,436.0 799.5,425.4 810.0,415.0 C820.5,404.6 824.7,394.6 833.0,382.0 C841.3,369.4 852.2,352.4 860.0,339.7 C867.8,327.0 872.3,317.8 880.0,305.9 C887.7,293.9 898.0,278.2 906.0,268.0 C914.0,257.8 919.8,253.6 928.0,244.4 C936.2,235.2 946.3,221.0 955.0,212.7 C963.7,204.4 972.5,198.8 980.0,194.6 C987.5,190.4 993.3,189.4 1000.0,187.5 C1006.7,185.6 1014.7,184.6 1020.0,183.0 C1025.3,181.4 1028.3,180.5 1032.0,178.0 C1035.7,175.5 1037.0,174.2 1042.0,168.0 C1047.0,161.8 1055.7,149.4 1062.0,140.5 C1068.3,131.6 1075.1,121.2 1080.0,114.5 C1084.9,107.8 1089.4,102.8 1091.3,100.5" fill="none" stroke="#FF0000" stroke-width="12.5" stroke-linecap="round" stroke-linejoin="round"/>
<path d="M89.8,79.5 V640.5 H1130.2 M1130.2,106.5 V620" fill="none" stroke="#222" stroke-width="1.6"/>
<path d="M80,620.0 H89.8 M80,514.4 H89.8 M80,408.8 H89.8 M80,303.3 H89.8 M80,197.7 H89.8 M80,92.1 H89.8 M1130.2,620.0 H1141 M1130.2,517.3 H1141 M1130.2,414.6 H1141 M1130.2,311.9 H1141 M1130.2,209.2 H1141 M1130.2,106.5 H1141 M695.6,640.5 V650.5" fill="none" stroke="#222" stroke-width="1.6"/>
<g font-family="Liberation Sans" font-size="17" fill="#111" text-anchor="end"><text x="67.7" y="625.0">0</text><text x="67.7" y="519.4">1000</text><text x="67.7" y="413.8">2000</text><text x="67.7" y="308.3">3000</text><text x="67.7" y="202.7">4000</text><text x="67.7" y="97.1">5000</text></g>
<g font-family="Liberation Sans" font-size="16" fill="#111" text-anchor="middle"><text transform="translate(1167.5,620.0) rotate(-90)" x="0" y="0">0e+00</text><text transform="translate(1167.5,517.3) rotate(-90)" x="0" y="0">1e+05</text><text transform="translate(1167.5,414.6) rotate(-90)" x="0" y="0">2e+05</text><text transform="translate(1167.5,311.9) rotate(-90)" x="0" y="0">3e+05</text><text transform="translate(1167.5,209.2) rotate(-90)" x="0" y="0">4e+05</text><text transform="translate(1167.5,106.5) rotate(-90)" x="0" y="0">5e+05</text></g>
<text x="696" y="677.3" font-family="Liberation Sans" font-size="16" fill="#111" text-anchor="middle">2021</text>
<text x="610" y="719.3" font-family="Liberation Sans" font-size="16" fill="#111" text-anchor="middle" textLength="237" lengthAdjust="spacingAndGlyphs">Ημερομηνία λήψης δείγματος</text>
<text transform="translate(23,359.5) rotate(-90)" font-family="Liberation Sans" font-size="16.8" fill="#111" text-anchor="middle" textLength="213" lengthAdjust="spacingAndGlyphs">Αριθμός νέων κρουσμάτων</text>
<text transform="translate(1207.5,354.6) rotate(-90)" font-family="Liberation Sans" font-size="16" fill="#111" text-anchor="middle" textLength="242" lengthAdjust="spacingAndGlyphs">Συνολικός αριθμός κρουσμάτων</text>
<text x="93.4" y="52.8" font-family="Liberation Sans" font-weight="bold" font-size="18.5" fill="#000" textLength="1031" lengthAdjust="spacingAndGlyphs">Διάγραμμα 1: Αριθμός εργαστηριακά επιβεβαιωμένων κρουσμάτων COVID-19 στην Ελλάδα, 05 Αυγούστου 2021</text></svg>
</body></html>
